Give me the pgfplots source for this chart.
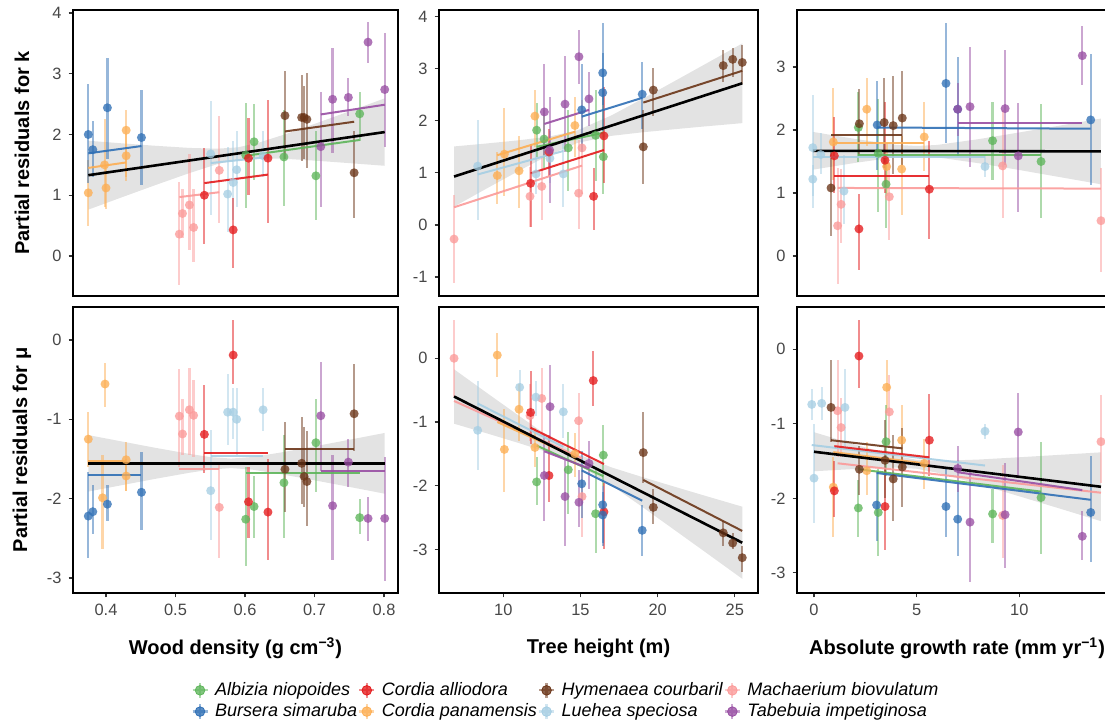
\documentclass[border=0pt]{standalone}
\usepackage{fontspec}
\setmainfont{Liberation Sans}
\usepackage{pgfplots}
\pgfplotsset{compat=1.18}
\definecolor{cAlb}{HTML}{5DB55A}
\definecolor{cBur}{HTML}{2F6FB5}
\definecolor{cCal}{HTML}{E41A1C}
\definecolor{cCpa}{HTML}{FDAE53}
\definecolor{cHym}{HTML}{6B3518}
\definecolor{cLue}{HTML}{A6CEE3}
\definecolor{cMac}{HTML}{FB9A99}
\definecolor{cTab}{HTML}{984EA3}
\pgfplotsset{
  panel/.style={
    anchor=south west, scale only axis, height=143pt,
    axis line style={black, line width=0.75pt},
    tick align=outside, tick pos=left, major tick length=2.2pt,
    every tick/.style={black!80, line width=0.6pt},
    tick label style={font=\fontsize{8.2}{9.8}\selectfont, text=black!72},
    /pgf/number format/assume math mode=true,
    clip=true,
  },
  sl/.style={forget plot, #1, line width=1pt, opacity=0.9},
  bl/.style={forget plot, black, line width=1.3pt},
  band/.style={forget plot, draw=none, fill=gray!22},
  pts/.style={forget plot, only marks, color=#1, mark=*, mark size=2.25pt,
    mark options={draw opacity=0, fill=#1, fill opacity=0.78},
    error bars/.cd, y dir=both, y explicit, error mark=none,
    error bar style={line width=1.1pt, draw=#1, draw opacity=0.5}},
  table/pe/.style={x=x, y=y, y error plus expr=\thisrow{h}-\thisrow{y}, y error minus expr=\thisrow{y}-\thisrow{l}},
  legsym/.style={legend image code/.code={
      \draw[#1, draw opacity=0.5, line width=1.1pt] (-3.75pt,0pt) -- (3.75pt,0pt) (0pt,-3.75pt) -- (0pt,3.75pt);
      \fill[#1, fill opacity=0.78] (0pt,0pt) circle (2.4pt);}},
}
\begin{document}
\begin{tikzpicture}
\useasboundingbox (0,0) rectangle (552.5pt,362pt);
\clip (0,0) rectangle (552.5pt,362pt);

% ---------------- Panel 1: k vs wood density
\begin{axis}[panel, at={(36.5pt,214pt)}, width=162.5pt,
  xmin=0.3525, xmax=0.8201, ymin=-0.658, ymax=4.049, ytick={0,1,2,3,4}, xtick=\empty]
\addplot[band] coordinates {(0.3745,0.763) (0.42,0.955) (0.47,1.163) (0.52,1.365) (0.56,1.512) (0.59,1.589) (0.62,1.612) (0.66,1.598) (0.70,1.570) (0.75,1.529) (0.801,1.485)
 (0.801,2.595) (0.75,2.381) (0.70,2.174) (0.66,2.012) (0.62,1.866) (0.59,1.789) (0.56,1.766) (0.52,1.779) (0.47,1.815) (0.42,1.857) (0.3745,1.897)};
\addplot[pts=cMac] table[pe] {
x y l h
0.5055 0.36 -0.47 1.22
0.510 0.70 0.30 1.10
0.520 0.84 0.10 1.68
0.526 0.47 -0.10 1.10
0.563 1.41 0.55 2.30
};
\addplot[pts=cLue] table[pe] {
x y l h
0.5506 1.68 0.68 2.55
0.575 1.02 0.40 1.80
0.583 1.21 0.60 1.90
0.588 1.42 0.80 2.05
0.626 1.65 1.30 2.05
};
\addplot[pts=cCpa] table[pe] {
x y l h
0.3745 1.04 0.50 1.58
0.398 1.50 0.80 2.25
0.400 1.12 0.77 1.50
0.429 2.07 1.24 2.40
0.429 1.65 1.30 2.00
};
\addplot[pts=cAlb] table[pe] {
x y l h
0.601 1.66 0.79 2.52
0.613 1.88 1.25 2.50
0.656 1.63 0.83 2.40
0.702 1.32 0.60 2.05
0.765 2.34 1.90 2.70
};
\addplot[pts=cCal] table[pe] {
x y l h
0.5415 1.00 0.20 1.78
0.583 0.43 -0.20 0.95
0.605 1.61 1.00 2.27
0.633 1.61 0.55 2.57
};
\addplot[pts=cBur] table[pe] {
x y l h
0.3745 2.00 1.20 2.83
0.381 1.75 1.30 2.22
0.402 2.44 1.60 3.26
0.451 1.95 1.17 2.74
};
\addplot[pts=cTab] table[pe] {
x y l h
0.709 1.80 0.80 2.70
0.726 2.58 1.70 3.43
0.7487 2.61 2.30 2.93
0.777 3.52 3.18 3.85
0.801 2.74 1.80 3.67
};
\addplot[pts=cHym] table[pe] {
x y l h
0.6575 2.31 1.60 3.05
0.6815 2.28 1.57 2.98
0.685 2.28 1.60 2.80
0.689 2.25 1.45 3.02
0.757 1.37 0.62 2.05
};
\addplot[sl=cMac] coordinates {(0.5055,0.97) (0.563,1.05)};
\addplot[sl=cLue] coordinates {(0.5506,1.53) (0.626,1.62)};
\addplot[sl=cCpa] coordinates {(0.3745,1.45) (0.429,1.54)};
\addplot[sl=cAlb] coordinates {(0.601,1.65) (0.765,1.91)};
\addplot[sl=cCal] coordinates {(0.5415,1.20) (0.633,1.34)};
\addplot[sl=cBur] coordinates {(0.3745,1.69) (0.451,1.81)};
\addplot[sl=cTab] coordinates {(0.709,2.33) (0.801,2.49)};
\addplot[sl=cHym] coordinates {(0.6575,2.05) (0.757,2.21)};
\addplot[bl] coordinates {(0.3745,1.33) (0.801,2.04)};
\end{axis}

% ---------------- Panel 2: k vs tree height
\begin{axis}[panel, at={(219.5pt,214pt)}, width=159.5pt,
  xmin=5.835, xmax=26.50, ymin=-1.363, ymax=4.127, ytick={-1,0,1,2,3,4}, xtick=\empty]
\addplot[band] coordinates {(6.81,0.352) (9,0.713) (11,1.038) (13,1.349) (14.8,1.576) (17,1.711) (19,1.779) (21,1.836) (23,1.891) (25.48,1.955)
 (25.48,3.485) (23,3.075) (21,2.746) (19,2.419) (17,2.103) (14.8,1.816) (13,1.699) (11,1.626) (9,1.567) (6.81,1.508)};
\addplot[pts=cMac] table[pe] {
x y l h
6.81 -0.27 -1.12 0.58
11.73 0.55 -0.03 1.12
12.49 0.74 0.10 1.30
14.88 0.61 -0.07 1.63
15.10 1.48 0.60 2.40
};
\addplot[pts=cLue] table[pe] {
x y l h
8.34 1.13 0.10 2.02
12.12 0.98 0.60 1.45
13.02 1.28 0.80 1.80
13.89 0.98 0.35 1.60
};
\addplot[pts=cCpa] table[pe] {
x y l h
9.61 0.95 0.40 1.40
10.07 1.36 0.55 2.25
11.02 1.04 0.33 1.70
12.05 2.09 1.50 2.60
14.64 1.91 1.30 2.45
};
\addplot[pts=cAlb] table[pe] {
x y l h
12.16 1.82 1.30 2.35
12.64 1.65 1.10 2.20
14.21 1.48 0.65 2.20
15.98 1.72 0.85 2.60
16.48 1.31 0.60 2.60
};
\addplot[pts=cCal] table[pe] {
x y l h
11.77 0.80 -0.03 1.55
12.96 1.40 0.95 1.85
15.85 0.55 -0.10 1.10
16.52 1.71 0.80 2.65
};
\addplot[pts=cBur] table[pe] {
x y l h
15.08 2.21 1.40 3.10
16.44 2.92 2.30 3.88
16.44 2.54 1.80 3.30
19.00 2.51 1.85 3.12
};
\addplot[pts=cTab] table[pe] {
x y l h
12.66 2.17 1.35 3.10
13.00 1.44 0.42 2.46
14.00 2.32 1.40 3.25
14.90 3.23 2.70 3.75
15.55 2.42 1.90 2.93
};
\addplot[pts=cHym] table[pe] {
x y l h
19.07 1.50 0.78 2.20
19.72 2.59 2.10 3.02
24.25 3.06 2.75 3.35
24.86 3.18 2.85 3.40
25.48 3.12 2.70 3.45
};
\addplot[sl=cMac] coordinates {(6.81,0.34) (15.10,1.14)};
\addplot[sl=cLue] coordinates {(8.34,0.97) (13.89,1.42)};
\addplot[sl=cCpa] coordinates {(9.61,1.34) (14.64,1.79)};
\addplot[sl=cAlb] coordinates {(12.16,1.50) (16.48,1.77)};
\addplot[sl=cCal] coordinates {(11.77,0.99) (16.52,1.44)};
\addplot[sl=cBur] coordinates {(15.08,2.08) (19.00,2.44)};
\addplot[sl=cTab] coordinates {(12.66,1.94) (15.55,2.21)};
\addplot[sl=cHym] coordinates {(19.07,2.35) (25.48,2.96)};
\addplot[bl] coordinates {(6.81,0.93) (25.48,2.72)};
\end{axis}

% ---------------- Panel 3: k vs growth rate
\begin{axis}[panel, at={(398.5pt,214pt)}, width=160pt,
  xmin=-0.828, xmax=14.76, ymin=-0.635, ymax=3.905, ytick={0,1,2,3}, xtick=\empty]
\addplot[band] coordinates {(-0.06,1.37) (2,1.478) (4,1.569) (5,1.586) (6,1.567) (8,1.474) (10,1.365) (12,1.251) (13.98,1.138)
 (13.98,2.182) (12,2.071) (10,1.961) (8,1.854) (6,1.763) (5,1.746) (4,1.765) (2,1.858) (-0.06,1.97)};
\addplot[pts=cMac] table[pe] {
x y l h
1.15 0.48 -0.45 1.40
1.32 0.82 0.20 1.38
3.67 0.94 0.25 1.50
9.19 1.43 0.60 2.32
13.98 0.56 -0.25 1.40
};
\addplot[pts=cLue] table[pe] {
x y l h
-0.06 1.72 0.76 2.56
-0.06 1.22 0.95 1.45
0.33 1.61 1.30 1.95
1.46 1.03 0.50 1.60
8.33 1.42 1.25 1.60
};
\addplot[pts=cCpa] table[pe] {
x y l h
0.94 1.81 1.20 2.66
2.57 2.33 1.75 2.82
3.54 1.42 0.95 1.80
4.27 1.38 0.65 1.90
5.37 1.89 1.35 2.45
};
\addplot[pts=cAlb] table[pe] {
x y l h
2.16 2.04 1.50 2.60
3.13 1.63 0.70 2.50
3.51 1.14 0.45 1.60
8.70 1.83 1.20 2.44
11.06 1.50 0.60 2.42
};
\addplot[pts=cCal] table[pe] {
x y l h
0.99 1.59 1.00 2.20
2.19 0.43 -0.23 0.98
3.46 1.52 1.00 2.45
5.62 1.06 0.27 1.82
};
\addplot[pts=cBur] table[pe] {
x y l h
3.08 2.08 1.37 2.77
6.43 2.74 1.80 3.70
7.00 2.33 1.58 3.16
13.48 2.16 1.13 3.20
};
\addplot[pts=cTab] table[pe] {
x y l h
7.00 2.33 1.90 2.75
7.60 2.37 1.42 3.32
9.31 2.34 1.45 3.27
9.95 1.59 0.70 2.43
13.07 3.18 2.72 3.65
};
\addplot[pts=cHym] table[pe] {
x y l h
0.83 1.08 0.32 1.66
2.21 2.10 1.60 2.65
3.42 2.12 1.40 2.83
3.86 2.07 1.30 2.86
4.30 2.19 1.45 2.93
};
\addplot[sl=cMac] coordinates {(1.15,1.08) (13.98,1.07)};
\addplot[sl=cLue] coordinates {(-0.06,1.57) (8.33,1.57)};
\addplot[sl=cCpa] coordinates {(0.94,1.79) (5.37,1.79)};
\addplot[sl=cAlb] coordinates {(2.16,1.60) (11.06,1.60)};
\addplot[sl=cCal] coordinates {(0.99,1.27) (5.62,1.27)};
\addplot[sl=cBur] coordinates {(3.08,2.04) (13.48,2.02)};
\addplot[sl=cTab] coordinates {(7.00,2.11) (13.07,2.11)};
\addplot[sl=cHym] coordinates {(0.83,1.92) (4.30,1.92)};
\addplot[bl] coordinates {(-0.06,1.67) (13.98,1.66)};
\end{axis}

% ---------------- Panel 4: mu vs wood density
\begin{axis}[panel, at={(36.5pt,65.5pt)}, width=162.5pt,
  xmin=0.3525, xmax=0.8201, ymin=-3.190, ymax=0.416, ytick={-3,-2,-1,0}, xtick={0.4,0.5,0.6,0.7,0.8},
  xticklabel style={/pgf/number format/.cd, fixed, fixed zerofill, precision=1}]
\addplot[band] coordinates {(0.3745,-1.911) (0.42,-1.835) (0.47,-1.752) (0.52,-1.674) (0.55,-1.634) (0.58,-1.615) (0.61,-1.634) (0.65,-1.689) (0.70,-1.769) (0.75,-1.852) (0.801,-1.938)
 (0.801,-1.172) (0.75,-1.258) (0.70,-1.341) (0.65,-1.421) (0.61,-1.476) (0.58,-1.495) (0.55,-1.476) (0.52,-1.436) (0.47,-1.358) (0.42,-1.275) (0.3745,-1.199)};
\addplot[pts=cMac] table[pe] {
x y l h
0.5055 -0.96 -1.60 -0.36
0.510 -1.185 -1.45 -0.75
0.520 -0.88 -1.45 -0.35
0.526 -0.95 -1.47 -0.50
0.563 -2.11 -2.75 -1.55
};
\addplot[pts=cLue] table[pe] {
x y l h
0.5506 -1.90 -2.52 -1.13
0.575 -0.91 -1.33 -0.43
0.583 -0.91 -1.25 -0.60
0.588 -1.00 -1.45 -0.60
0.626 -0.88 -1.15 -0.60
};
\addplot[pts=cCpa] table[pe] {
x y l h
0.3745 -1.25 -1.60 -0.91
0.395 -1.99 -2.63 -1.45
0.3986 -0.555 -0.84 -0.29
0.429 -1.51 -1.90 -1.28
0.429 -1.715 -1.90 -1.50
};
\addplot[pts=cAlb] table[pe] {
x y l h
0.601 -2.26 -2.85 -1.60
0.613 -2.10 -2.50 -1.72
0.656 -1.80 -2.50 -1.20
0.702 -1.295 -1.92 -0.75
0.765 -2.24 -2.45 -2.00
};
\addplot[pts=cCal] table[pe] {
x y l h
0.5415 -1.19 -1.68 -0.57
0.583 -0.19 -0.55 0.25
0.605 -2.04 -2.50 -1.60
0.633 -2.17 -2.78 -1.50
};
\addplot[pts=cBur] table[pe] {
x y l h
0.3745 -2.22 -2.75 -1.66
0.381 -2.165 -2.45 -1.83
0.402 -2.07 -2.28 -1.83
0.451 -1.92 -2.40 -1.41
};
\addplot[pts=cTab] table[pe] {
x y l h
0.709 -0.955 -1.65 -0.28
0.726 -2.09 -2.77 -1.45
0.7487 -1.54 -1.85 -1.25
0.777 -2.25 -2.53 -1.98
0.801 -2.25 -3.04 -1.48
};
\addplot[pts=cHym] table[pe] {
x y l h
0.6575 -1.63 -2.17 -1.03
0.6815 -1.555 -2.07 -0.97
0.685 -1.72 -2.10 -1.10
0.689 -1.785 -2.35 -1.15
0.757 -0.93 -1.40 -0.30
};
\addplot[sl=cMac] coordinates {(0.5055,-1.63) (0.563,-1.63)};
\addplot[sl=cLue] coordinates {(0.5506,-1.46) (0.626,-1.46)};
\addplot[sl=cCpa] coordinates {(0.3745,-1.52) (0.429,-1.52)};
\addplot[sl=cAlb] coordinates {(0.601,-1.68) (0.765,-1.68)};
\addplot[sl=cCal] coordinates {(0.5415,-1.43) (0.633,-1.43)};
\addplot[sl=cBur] coordinates {(0.3745,-1.70) (0.451,-1.70)};
\addplot[sl=cTab] coordinates {(0.709,-1.65) (0.801,-1.65)};
\addplot[sl=cHym] coordinates {(0.6575,-1.37) (0.757,-1.37)};
\addplot[bl] coordinates {(0.3745,-1.555) (0.801,-1.555)};
\end{axis}

% ---------------- Panel 5: mu vs tree height
\begin{axis}[panel, at={(219.5pt,65.5pt)}, width=159.5pt,
  xmin=5.835, xmax=26.50, ymin=-3.684, ymax=0.805, ytick={-3,-2,-1,0}, xtick={10,15,20,25}]
\addplot[band] coordinates {(6.81,-1.027) (9,-1.183) (11,-1.330) (13,-1.485) (14.8,-1.662) (17,-1.992) (19,-2.332) (21,-2.679) (23,-3.027) (25.48,-3.461)
 (25.48,-2.329) (23,-2.153) (21,-2.009) (19,-1.864) (17,-1.712) (14.8,-1.502) (13,-1.237) (11,-0.900) (9,-0.555) (6.81,-0.173)};
\addplot[pts=cMac] table[pe] {
x y l h
6.81 0.00 -0.60 0.60
11.73 -0.90 -1.30 -0.40
12.49 -0.63 -1.20 -0.15
14.88 -0.98 -1.50 -0.55
15.10 -2.17 -2.80 -1.70
};
\addplot[pts=cLue] table[pe] {
x y l h
8.34 -1.13 -1.75 -0.35
11.06 -0.455 -0.81 -0.18
12.11 -0.61 -0.90 -0.35
13.89 -0.84 -1.25 -0.40
};
\addplot[pts=cCpa] table[pe] {
x y l h
9.61 0.05 -0.30 0.40
10.07 -1.43 -2.10 -0.80
11.02 -0.80 -1.30 -0.40
12.05 -1.40 -1.70 -1.10
14.64 -1.50 -1.86 -1.18
};
\addplot[pts=cAlb] table[pe] {
x y l h
12.16 -1.94 -2.30 -1.55
14.21 -1.75 -2.45 -1.15
15.98 -2.44 -3.05 -1.75
16.48 -1.52 -2.00 -1.05
};
\addplot[pts=cCal] table[pe] {
x y l h
11.77 -0.85 -1.35 -0.20
12.96 -1.84 -2.25 -1.20
15.83 -0.35 -0.75 0.12
16.52 -2.41 -3.00 -1.95
};
\addplot[pts=cBur] table[pe] {
x y l h
15.08 -1.97 -2.50 -1.45
16.44 -2.30 -2.90 -2.00
16.44 -2.46 -2.95 -2.10
19.00 -2.70 -3.10 -2.30
};
\addplot[pts=cTab] table[pe] {
x y l h
12.66 -1.84 -2.55 -1.20
13.03 -0.76 -1.30 -0.10
14.00 -2.17 -2.95 -1.60
14.90 -2.26 -2.65 -1.75
15.55 -1.65 -2.05 -1.30
};
\addplot[pts=cHym] table[pe] {
x y l h
19.07 -1.48 -1.95 -0.85
19.72 -2.34 -2.60 -2.05
24.25 -2.74 -2.95 -2.55
24.86 -2.90 -3.00 -2.75
25.48 -3.13 -3.35 -2.95
};
\addplot[sl=cMac] coordinates {(6.81,-0.67) (15.10,-1.57)};
\addplot[sl=cLue] coordinates {(8.34,-0.71) (13.89,-1.39)};
\addplot[sl=cCpa] coordinates {(9.61,-1.00) (14.64,-1.55)};
\addplot[sl=cAlb] coordinates {(12.16,-1.37) (16.48,-1.85)};
\addplot[sl=cCal] coordinates {(11.77,-1.09) (16.52,-1.66)};
\addplot[sl=cBur] coordinates {(15.08,-1.76) (19.00,-2.235)};
\addplot[sl=cTab] coordinates {(12.66,-1.46) (15.55,-1.73)};
\addplot[sl=cHym] coordinates {(19.07,-1.91) (25.48,-2.71)};
\addplot[bl] coordinates {(6.81,-0.60) (25.48,-2.895)};
\end{axis}

% ---------------- Panel 6: mu vs growth rate
\begin{axis}[panel, at={(398.5pt,65.5pt)}, width=160pt,
  xmin=-0.828, xmax=14.76, ymin=-3.271, ymax=0.568, ytick={-3,-2,-1,0}, xtick={0,5,10}]
\addplot[band] coordinates {(0,-1.637) (2,-1.606) (4,-1.588) (5,-1.603) (6,-1.656) (8,-1.808) (10,-1.973) (12,-2.140) (13.98,-2.307)
 (13.98,-1.383) (12,-1.416) (10,-1.449) (8,-1.480) (6,-1.498) (5,-1.483) (4,-1.430) (2,-1.278) (0,-1.113)};
\addplot[pts=cMac] table[pe] {
x y l h
1.15 -0.825 -1.45 -0.15
1.32 -1.05 -1.45 -0.65
3.67 -0.84 -1.30 -0.35
9.19 -2.23 -2.80 -1.55
13.98 -1.24 -1.80 -0.62
};
\addplot[pts=cLue] table[pe] {
x y l h
-0.11 -0.74 -0.95 -0.53
0.00 -1.73 -2.33 -1.00
0.375 -0.725 -0.95 -0.50
1.51 -0.78 -1.30 -0.26
8.33 -1.10 -1.20 -1.00
};
\addplot[pts=cCpa] table[pe] {
x y l h
0.94 -1.85 -2.52 -1.45
2.57 -1.63 -1.95 -1.25
3.54 -0.51 -0.85 -0.15
4.27 -1.22 -1.60 -0.75
5.37 -1.53 -1.87 -1.20
};
\addplot[pts=cAlb] table[pe] {
x y l h
2.16 -2.13 -2.52 -1.75
3.13 -2.19 -2.78 -1.60
3.51 -1.24 -1.70 -0.75
8.70 -2.21 -2.60 -1.88
11.06 -1.99 -2.75 -1.25
};
\addplot[pts=cCal] table[pe] {
x y l h
0.99 -1.90 -2.25 -1.50
2.19 -0.09 -0.52 0.40
3.46 -2.11 -2.70 -1.60
5.62 -1.22 -1.70 -0.60
};
\addplot[pts=cBur] table[pe] {
x y l h
3.05 -2.09 -2.57 -1.65
6.43 -2.11 -2.52 -1.60
7.00 -2.28 -2.77 -1.80
13.48 -2.19 -2.85 -1.43
};
\addplot[pts=cTab] table[pe] {
x y l h
7.00 -1.60 -1.92 -1.30
7.60 -2.32 -3.12 -1.60
9.31 -2.22 -2.93 -1.53
9.95 -1.11 -1.70 -0.58
13.07 -2.51 -2.83 -2.17
};
\addplot[pts=cHym] table[pe] {
x y l h
0.83 -0.78 -1.25 -0.15
2.21 -1.61 -1.95 -1.30
3.46 -1.49 -2.00 -0.95
3.86 -1.74 -2.30 -1.15
4.30 -1.58 -2.12 -1.05
};
\addplot[sl=cMac] coordinates {(1.15,-1.53) (13.98,-1.925)};
\addplot[sl=cLue] coordinates {(-0.11,-1.285) (8.33,-1.56)};
\addplot[sl=cCpa] coordinates {(0.94,-1.38) (5.37,-1.53)};
\addplot[sl=cAlb] coordinates {(2.16,-1.61) (11.06,-1.91)};
\addplot[sl=cCal] coordinates {(0.99,-1.30) (5.62,-1.45)};
\addplot[sl=cBur] coordinates {(3.05,-1.66) (13.48,-2.02)};
\addplot[sl=cTab] coordinates {(7.00,-1.65) (13.07,-1.89)};
\addplot[sl=cHym] coordinates {(0.83,-1.22) (4.30,-1.33)};
\addplot[bl] coordinates {(0,-1.375) (13.98,-1.845)};
\end{axis}

% ---------------- titles
\node[font=\bfseries\fontsize{10}{12}\selectfont] at (117.75pt,38pt) {Wood density (g cm\textsuperscript{−3})};
\node[font=\bfseries\fontsize{10}{12}\selectfont] at (299.25pt,38pt) {Tree height (m)};
\node[font=\bfseries\fontsize{10}{12}\selectfont] at (478.5pt,38pt) {Absolute growth rate (mm yr\textsuperscript{−1})};
\node[rotate=90, font=\bfseries\fontsize{10}{12}\selectfont] at (11pt,285.5pt) {Partial residuals for k};
\node[rotate=90, font=\bfseries\fontsize{10}{12}\selectfont] at (11pt,137pt) {Partial residuals for μ};

% ---------------- legend
\begin{axis}[at={(0pt,0pt)}, anchor=south west, scale only axis, width=552.5pt, height=362pt,
  hide axis, xmin=0, xmax=1, ymin=0, ymax=1,
  legend columns=4,
  legend style={at={(0.5131,0.0318)}, anchor=center, draw=none, fill=none,
    font=\fontsize{9}{10.8}\selectfont\itshape,
    nodes={inner xsep=2pt, inner ysep=1.3pt},
    /tikz/every odd column/.append style={column sep=1.25pt},
    /tikz/every even column/.append style={column sep=-1.5pt}},
  legend cell align=left]
\addlegendimage{legsym=cAlb}\addlegendentry{Albizia niopoides}
\addlegendimage{legsym=cCal}\addlegendentry{Cordia alliodora}
\addlegendimage{legsym=cHym}\addlegendentry{Hymenaea courbaril}
\addlegendimage{legsym=cMac}\addlegendentry{Machaerium biovulatum}
\addlegendimage{legsym=cBur}\addlegendentry{Bursera simaruba}
\addlegendimage{legsym=cCpa}\addlegendentry{Cordia panamensis}
\addlegendimage{legsym=cLue}\addlegendentry{Luehea speciosa}
\addlegendimage{legsym=cTab}\addlegendentry{Tabebuia impetiginosa}
\end{axis}
\end{tikzpicture}
\end{document}
